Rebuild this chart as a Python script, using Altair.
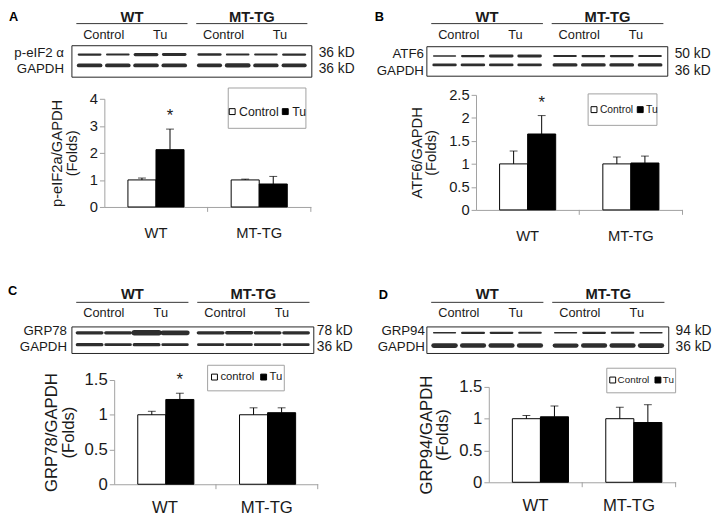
import altair as alt
import pandas as pd

# ---------------- data ----------------
GROUPS = ["WT", "MT-TG"]
CONDS = ["Control", "Tu"]
LANE_GROUP = ["WT", "WT", "WT", "WT", "MT-TG", "MT-TG", "MT-TG", "MT-TG"]
LANE_COND = ["Control", "Control", "Tu", "Tu", "Control", "Control", "Tu", "Tu"]
BAR_GROUP = ["WT", "WT", "MT-TG", "MT-TG"]
BAR_COND = ["Control", "Tu", "Control", "Tu"]

# fold change (mean) and upper error, order: WT-Control, WT-Tu, MT-TG-Control, MT-TG-Tu
A_MEAN = [1.00, 2.12, 1.00, 0.85]
A_ERR = [0.07, 0.76, 0.03, 0.28]
B_MEAN = [1.00, 1.65, 1.00, 1.02]
B_ERR = [0.28, 0.40, 0.15, 0.15]
C_MEAN = [1.00, 1.22, 1.00, 1.03]
C_ERR = [0.05, 0.09, 0.10, 0.07]
D_MEAN = [1.00, 1.03, 1.00, 0.94]
D_ERR = [0.05, 0.17, 0.18, 0.28]
A_STAR = [False, True, False, False]
B_STAR = [False, True, False, False]
C_STAR = [False, True, False, False]
D_STAR = [False, False, False, False]

# western blot band thickness per lane (target protein row, GAPDH row)
A_TARGET = [2.2, 2.0, 3.2, 3.0, 2.6, 2.0, 2.0, 2.4]
A_GAPDH = [4.0, 4.0, 4.0, 4.0, 3.6, 4.2, 3.8, 3.6]
B_TARGET = [1.6, 2.2, 3.0, 3.0, 2.0, 2.2, 2.2, 2.0]
B_GAPDH = [2.8, 3.0, 3.0, 3.0, 3.4, 3.2, 3.2, 3.2]
C_TARGET = [3.4, 3.4, 5.5, 4.8, 3.4, 3.6, 3.4, 3.2]
C_GAPDH = [3.2, 3.0, 3.4, 2.8, 2.6, 2.8, 3.0, 2.6]
D_TARGET = [1.6, 2.4, 2.2, 2.0, 1.6, 2.2, 2.0, 1.6]
D_GAPDH = [5.0, 4.6, 4.6, 4.6, 4.4, 4.6, 4.6, 4.8]

PANELS = [
    dict(letter="A", target="p-eIF2 α", kd="36 kD", t=A_TARGET, g=A_GAPDH, mean=A_MEAN,
         err=A_ERR, star=A_STAR, ymax=4, ticks=[0, 1, 2, 3, 4],
         ytitle=["p-eIF2a/GAPDH", "(Folds)"], leg=["Control", "Tu"]),
    dict(letter="B", target="ATF6", kd="50 kD", t=B_TARGET, g=B_GAPDH, mean=B_MEAN,
         err=B_ERR, star=B_STAR, ymax=2.5, ticks=[0, 0.5, 1, 1.5, 2, 2.5],
         ytitle=["ATF6/GAPDH", "(Folds)"], leg=["Control", "Tu"]),
    dict(letter="C", target="GRP78", kd="78 kD", t=C_TARGET, g=C_GAPDH, mean=C_MEAN,
         err=C_ERR, star=C_STAR, ymax=1.5, ticks=[0, 0.5, 1, 1.5],
         ytitle=["GRP78/GAPDH", "(Folds)"], leg=["control", "Tu"]),
    dict(letter="D", target="GRP94", kd="94 kD", t=D_TARGET, g=D_GAPDH, mean=D_MEAN,
         err=D_ERR, star=D_STAR, ymax=1.5, ticks=[0, 0.5, 1, 1.5],
         ytitle=["GRP94/GAPDH", "(Folds)"], leg=["Control", "Tu"]),
]

# ---------------- layout (pixels) ----------------
LAYOUT = [
    dict(W=244, H=204, ytop=94, x0=33, x1=243, bt=40, bb=72, r=(49, 60), lr=(47, 64), po=0.84,
         letter=(-64, 10.5), gy=10.5, uy=17.5, cy=29, hw=11, lp=8, kp=7,
         leg=(159, 238, 83, 124), ly=107, sx=(163, 217), tx=(170, 224), lfs=12.5,
         tfs=15, yfs=15, cfs=15, tpad=10, cpad=19),
    dict(W=245, H=207, ytop=90, x0=50, x1=260, bt=41, bb=71, r=(50.5, 59.5), lr=(48, 66), po=0.78,
         letter=(-53, 10.5), gy=10.5, uy=17.5, cy=29, hw=11, lp=3, kp=7,
         leg=(164, 234, 89, 121), ly=105, sx=(170, 217), tx=(176, 223), lfs=10.5,
         tfs=15, yfs=15, cfs=15, tpad=10, cpad=19),
    dict(W=246, H=202, ytop=96, x0=43, x1=250, bt=42, bb=69, r=(48, 60), lr=(46, 62), po=0.75,
         letter=(-65, 6), gy=9, uy=17, cy=27.5, hw=12.5, lp=5, kp=3,
         leg=(138, 216, 81, 107), ly=93, sx=(145, 195), tx=(151, 201), lfs=11.5,
         tfs=17, yfs=17, cfs=17, tpad=7, cpad=16),
    dict(W=246, H=200, ytop=103, x0=63, x1=253, bt=42, bb=69, r=(48, 61), lr=(46, 62), po=0.70,
         letter=(-49, 10), gy=9, uy=17, cy=27.5, hw=11, lp=2, kp=7,
         leg=(183, 253, 84, 109), ly=96, sx=(189, 235), tx=(194, 240), lfs=10,
         tfs=17, yfs=17, cfs=17, tpad=7, cpad=16),
]

GRAY = "#a0a0a0"
DARK = "#1a1a1a"
ONE = pd.DataFrame({"k": [0]})


def build(P, L):
    W, H = L["W"], L["H"]
    m = 18
    ppu = (W - 2 * m) / 7.25
    lane_scale = alt.Scale(domain=[-m / ppu, 7.25 + m / ppu], range=[0, W], nice=False, zero=False)
    hw = L["hw"] / ppu
    pos = "datum.lane + (datum.lane >= 4 ? 0.25 : 0)"

    lanes = pd.DataFrame({"lane": list(range(8)), "group": LANE_GROUP, "cond": LANE_COND})
    lane_base = alt.Chart(lanes).transform_calculate(
        p=pos, xl=f"{pos} - 0.47", xr=f"{pos} + 0.47")

    grp_text = lane_base.mark_text(fontSize=15, fontWeight="bold", baseline="middle", color=DARK).encode(
        x=alt.X("mean(p):Q", scale=lane_scale, axis=None), y=alt.value(L["gy"]), text="group:N")
    underline = lane_base.mark_rule(color="#333", strokeWidth=1).encode(
        x=alt.X("min(xl):Q", scale=lane_scale, axis=None), x2=alt.X2("max(xr):Q"),
        y=alt.value(L["uy"]), detail="group:N")
    cond_text = lane_base.mark_text(fontSize=13, baseline="middle", color=DARK).encode(
        x=alt.X("mean(p):Q", scale=lane_scale, axis=None), y=alt.value(L["cy"]),
        text="cond:N", detail="group:N")

    box = alt.Chart(ONE).mark_rect(filled=False, stroke="#222", strokeWidth=1).encode(
        x=alt.value(0), x2=alt.value(W), y=alt.value(L["bt"]), y2=alt.value(L["bb"]))

    band_rows = []
    for i in range(8):
        band_rows.append(dict(lane=i, row=P["target"], thick=P["t"][i]))
        band_rows.append(dict(lane=i, row="GAPDH", thick=P["g"][i]))
    band_df = pd.DataFrame(band_rows)
    rows = [P["target"], "GAPDH"]
    row_scale = alt.Scale(type="point", domain=rows, range=list(L["r"]), padding=0)
    lab_scale = alt.Scale(type="point", domain=rows, range=list(L["lr"]), padding=0)

    bands = alt.Chart(band_df).transform_calculate(
        xl=f"{pos} - {hw}", xr=f"{pos} + {hw}"
    ).mark_rule(color="#1c1c1c", strokeCap="round", opacity=0.92).encode(
        x=alt.X("xl:Q", scale=lane_scale, axis=None), x2=alt.X2("xr:Q"),
        y=alt.Y("row:N", scale=row_scale, axis=None),
        size=alt.Size("thick:Q", scale=None, legend=None))

    lab_df = pd.DataFrame({"row": rows, "kd": [P["kd"], "36 kD"]})
    names = alt.Chart(lab_df).mark_text(align="right", baseline="middle", fontSize=13.5, color=DARK).encode(
        x=alt.value(-L["lp"]), y=alt.Y("row:N", scale=lab_scale, axis=None), text="row:N")
    kds = alt.Chart(lab_df).mark_text(align="left", baseline="middle", fontSize=14, color=DARK).encode(
        x=alt.value(W + L["kp"]), y=alt.Y("row:N", scale=lab_scale, axis=None), text="kd:N")

    bar_df = pd.DataFrame({"group": BAR_GROUP, "cond": BAR_COND, "mean": P["mean"],
                           "err": P["err"], "star": P["star"]})
    bb = alt.Chart(bar_df).transform_calculate(top="datum.mean + datum.err")
    xs = alt.Scale(domain=GROUPS, range=[L["x0"], L["x1"]], paddingInner=0, paddingOuter=0)
    xo = alt.Scale(domain=CONDS, paddingInner=0, paddingOuter=L["po"])
    ys = alt.Scale(domain=[0, P["ymax"]], range=[H, L["ytop"]], nice=False, zero=True)
    fill = alt.Fill("cond:N", scale=alt.Scale(domain=CONDS, range=["white", "black"]), legend=None)

    bars = bb.mark_bar(stroke="black", strokeWidth=1).encode(
        x=alt.X("group:N", scale=xs, sort=GROUPS,
                axis=alt.Axis(title=None, labelAngle=0, ticks=False,
                              labelFontSize=L["cfs"], labelPadding=L["cpad"], domainColor=GRAY,
                              labelColor=DARK)),
        xOffset=alt.XOffset("cond:N", scale=xo, sort=CONDS),
        y=alt.Y("mean:Q", scale=ys,
                axis=alt.Axis(values=P["ticks"], format="~g", grid=False,
                              domainColor=GRAY, tickColor=GRAY, tickSize=5,
                              labelFontSize=L["tfs"], labelColor=DARK, labelPadding=2,
                              offset=-L["x0"], title=P["ytitle"], titleFontSize=L["yfs"],
                              titleFontWeight="normal", titleColor=DARK,
                              titlePadding=L["tpad"], titleLineHeight=L["yfs"], minExtent=0)),
        fill=fill)

    # category tick marks at the end of each group band (Excel style)
    gticks = alt.Chart(pd.DataFrame({"group": GROUPS})).mark_rule(color=GRAY, strokeWidth=1).encode(
        x=alt.X("group:N", scale=xs, sort=GROUPS, bandPosition=1, axis=None),
        y=alt.value(H), y2=alt.value(H + 5))

    err_rule = bb.mark_rule(color="black", strokeWidth=1).encode(
        x=alt.X("group:N", scale=xs, sort=GROUPS, axis=None),
        xOffset=alt.XOffset("cond:N", scale=xo, sort=CONDS),
        y=alt.Y("mean:Q", scale=ys, axis=None), y2=alt.Y2("top:Q"))

    cap = bb.mark_tick(color="black", thickness=1, size=8).encode(
        x=alt.X("group:N", scale=xs, sort=GROUPS, axis=None),
        xOffset=alt.XOffset("cond:N", scale=xo, sort=CONDS),
        y=alt.Y("top:Q", scale=ys, axis=None))

    star = bb.transform_filter("datum.star").mark_text(
        text="*", fontSize=17, baseline="middle", dy=-13, color=DARK).encode(
        x=alt.X("group:N", scale=xs, sort=GROUPS, axis=None),
        xOffset=alt.XOffset("cond:N", scale=xo, sort=CONDS),
        y=alt.Y("top:Q", scale=ys, axis=None))

    lx1, lx2, ly1, ly2 = L["leg"]
    leg_box = alt.Chart(ONE).mark_rect(filled=False, stroke=GRAY, strokeWidth=1).encode(
        x=alt.value(lx1), x2=alt.value(lx2), y=alt.value(ly1), y2=alt.value(ly2))
    leg_df = pd.DataFrame({"cond": CONDS, "label": P["leg"]})
    leg_layers = [leg_box]
    for i, c in enumerate(CONDS):
        sub = alt.Chart(leg_df).transform_filter(alt.datum.cond == c)
        leg_layers.append(sub.mark_square(size=36, stroke="black", strokeWidth=1, opacity=1).encode(
            x=alt.value(L["sx"][i]), y=alt.value(L["ly"]), fill=fill))
        leg_layers.append(sub.mark_text(align="left", baseline="middle", fontSize=L["lfs"], color=DARK).encode(
            x=alt.value(L["tx"][i]), y=alt.value(L["ly"]), text="label:N"))

    letter = alt.Chart(ONE).mark_text(text=P["letter"], fontWeight="bold", fontSize=13,
                                      align="left", baseline="middle", color="black").encode(
        x=alt.value(L["letter"][0]), y=alt.value(L["letter"][1]))

    layers = ([grp_text, underline, cond_text, box, bands, names, kds,
               bars, gticks, err_rule, cap, star] + leg_layers + [letter])
    return alt.layer(*layers).resolve_scale(x="independent", y="independent").properties(width=W, height=H)


panels = [build(P, L) for P, L in zip(PANELS, LAYOUT)]

chart = alt.concat(
    *panels, columns=2, spacing={"row": 77, "column": 115}, bounds="flush"
).properties(
    padding={"top": -6, "left": 0, "right": 0, "bottom": 0}
).configure(font="Liberation Sans").configure_view(stroke=None)

chart.save("out.html", embed_options={"renderer": "svg", "actions": False})
